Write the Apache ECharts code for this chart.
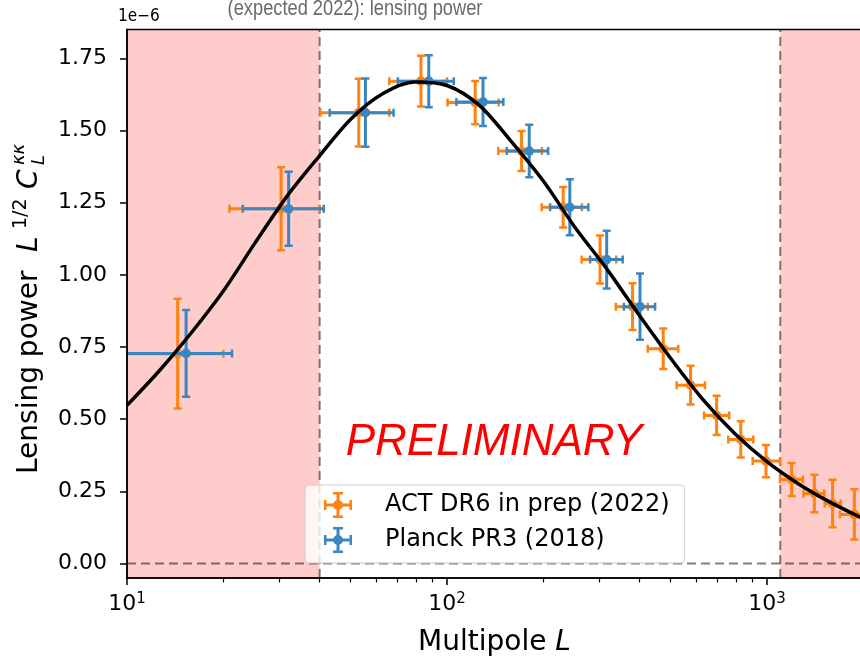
<!DOCTYPE html>
<html lang="en">
<head>
<meta charset="UTF-8">
<title>Lensing power</title>
<script src="https://cdn.jsdelivr.net/npm/echarts@6.0.0/dist/echarts.min.js"></script>
<style>html,body{margin:0;padding:0;background:#fff;}</style>
</head>
<body>
<div id="main" style="width:860px;height:656px;"></div>
<script type="text/javascript">
// bandpowers, in units of 1e-6
var actL   = [14.4, 30.3, 53.0, 82.9, 122.5, 171, 230.7, 300.8, 380, 474, 577, 696, 828, 993, 1194, 1406, 1603, 1875];
var actLo  = [8, 20.9, 40.2, 66, 100.4, 144.6, 197.7, 263.5, 337, 424, 522, 636, 757, 902, 1098, 1300, 1515, 1690];
var actHi  = [20, 40, 66, 100, 145, 198, 264, 338, 424, 528, 640, 762, 906, 1098, 1295, 1510, 1700, 2060];
var actVal = [0.727, 1.229, 1.562, 1.671, 1.597, 1.429, 1.234, 1.053, 0.89, 0.744, 0.618, 0.513, 0.43, 0.355, 0.291, 0.243, 0.208, 0.17];
var actErr = [0.19, 0.144, 0.117, 0.088, 0.075, 0.069, 0.07, 0.083, 0.081, 0.07, 0.067, 0.068, 0.063, 0.056, 0.057, 0.065, 0.082, 0.087];

var planckL   = [15.3, 32.0, 55.6, 87.7, 129.6, 180.7, 242, 315.5, 401];
var planckLo  = [8, 23, 43, 70.2, 107, 153.8, 210, 280, 357];
var planckHi  = [21.3, 41.2, 68.1, 105, 150, 207, 276.5, 354, 447];
var planckVal = [0.728, 1.229, 1.562, 1.671, 1.599, 1.429, 1.234, 1.053, 0.89];
var planckErr = [0.15, 0.128, 0.118, 0.09, 0.083, 0.091, 0.097, 0.1, 0.115];

// theory curve
var theoryL   = [10, 12.6, 15.8, 20, 25.1, 31.6, 39.8, 50.1, 63.1, 79.4, 100, 126, 158, 200, 251, 316, 398, 501, 631, 794, 1000, 1259, 1585, 1995];
var theoryVal = [0.548, 0.667, 0.796, 0.944, 1.11, 1.272, 1.41, 1.54, 1.628, 1.668, 1.656, 1.588, 1.465, 1.325, 1.165, 1.02, 0.862, 0.71, 0.568, 0.45, 0.353, 0.275, 0.211, 0.156];

var xTicks = [10, 100, 1000];
var xMinorTicks = [20, 30, 40, 50, 60, 70, 80, 90, 200, 300, 400, 500, 600, 700, 800, 900];
var yTicks = [0, 0.25, 0.5, 0.75, 1.0, 1.25, 1.5, 1.75];

var xMin = 10, xMax = 1981;
var yMin = -0.05, yMax = 1.85;
var lCutLow = 40, lCutHigh = 1100;

var ORANGE = '#ff820e';
var BLUE = '#3a86c0';
var FONT = 'DejaVu Sans';
var DASH = {color: 'rgba(0,0,0,0.5)', width: 2, type: [9, 5]};

function rows(xs, lo, hi, ys, err) {
    return xs.map(function (x, i) { return [x, ys[i], lo[i], hi[i], err[i]]; });
}

function renderErr(params, api) {
    var x = api.value(0), y = api.value(1);
    var e = api.value(4);
    var c = api.coord([x, y]);
    var l = api.coord([api.value(2), y]);
    var r = api.coord([api.value(3), y]);
    var t = api.coord([x, y + e]);
    var b = api.coord([x, y - e]);
    var color = api.visual('color');
    var bar = {stroke: color, lineWidth: 3};
    var cap = {stroke: color, lineWidth: 2.5};
    var h = 4;
    return {
        type: 'group',
        children: [
            {type: 'line', shape: {x1: l[0], y1: c[1], x2: r[0], y2: c[1]}, style: bar},
            {type: 'line', shape: {x1: c[0], y1: t[1], x2: c[0], y2: b[1]}, style: bar},
            {type: 'line', shape: {x1: l[0], y1: c[1] - h, x2: l[0], y2: c[1] + h}, style: cap},
            {type: 'line', shape: {x1: r[0], y1: c[1] - h, x2: r[0], y2: c[1] + h}, style: cap},
            {type: 'line', shape: {x1: c[0] - h, y1: t[1], x2: c[0] + h, y2: t[1]}, style: cap},
            {type: 'line', shape: {x1: c[0] - h, y1: b[1], x2: c[0] + h, y2: b[1]}, style: cap},
            {type: 'circle', shape: {cx: c[0], cy: c[1], r: 4.8}, style: {fill: color}}
        ]
    };
}

// errorbar legend icon: cross with caps and a dot, padded on the right
var errIcon = 'path://M12.5 0H15.5V26H12.5Z M0 11.5H28V14.5H0Z M9 0H19V2.5H9Z M9 23.5H19V26H9Z ' +
    'M0 8H2.5V18H0Z M25.5 8H28V18H25.5Z M19 13A5 5 0 1 1 9 13A5 5 0 1 1 19 13Z M56 26';

function guide(points, z) {
    return {
        type: 'line', data: points, z: z, silent: true, clip: true,
        showSymbol: false, symbol: 'none',
        lineStyle: DASH
    };
}

var myChart = echarts.init(document.getElementById('main'));

var option = {
    animation: false,
    grid: {
        left: 127, top: 29.5, width: 735, height: 548.5,
        outerBoundsMode: 'none', containLabel: false, z: 10,
        show: true, borderColor: '#000', borderWidth: 1.5, backgroundColor: 'transparent'
    },
    legend: {
        orient: 'vertical',
        left: 305, top: 485,
        padding: [7, 15, 10, 19],
        itemWidth: 56, itemHeight: 26, itemGap: 9,
        backgroundColor: 'rgba(255,255,255,0.8)',
        borderColor: '#cccccc', borderWidth: 1, borderRadius: 4,
        textStyle: {fontFamily: FONT, fontSize: 24, color: '#000'},
        data: [
            {name: 'ACT DR6 in prep (2022)', icon: errIcon},
            {name: 'Planck PR3 (2018)', icon: errIcon}
        ]
    },
    xAxis: [{
        type: 'log', logBase: 10, min: xMin, max: xMax,
        position: 'bottom', z: 10,
        name: 'Multipole {i|L}',
        nameLocation: 'middle', nameGap: 51,
        nameTextStyle: {
            fontFamily: FONT, fontSize: 28, color: '#000',
            rich: {i: {fontFamily: FONT, fontSize: 28, fontStyle: 'italic', color: '#000'}}
        },
        axisLine: {onZero: false, lineStyle: {color: '#000', width: 1.5}},
        axisTick: {customValues: xTicks, length: 7, lineStyle: {color: '#000', width: 1.5}},
        axisLabel: {
            customValues: xTicks, margin: 14,
            fontFamily: FONT, fontSize: 22, color: '#000',
            formatter: function (v) { return '10{s|' + Math.round(Math.log10(v)) + '}'; },
            rich: {s: {fontFamily: FONT, fontSize: 15, color: '#000', verticalAlign: 'top', padding: [0, 0, 10, 0]}}
        },
        splitLine: {show: false}
    }, {
        type: 'log', logBase: 10, min: xMin, max: xMax,
        position: 'bottom', z: 10,
        axisLine: {show: false, onZero: false},
        axisTick: {customValues: xMinorTicks, length: 4.5, lineStyle: {color: '#000', width: 1.2}},
        axisLabel: {show: false},
        splitLine: {show: false}
    }],
    yAxis: {
        type: 'value', min: yMin, max: yMax, z: 10,
        axisLine: {show: true, onZero: false, lineStyle: {color: '#000', width: 1.5}},
        axisTick: {show: true, customValues: yTicks, length: 7, lineStyle: {color: '#000', width: 1.5}},
        axisLabel: {
            customValues: yTicks, margin: 20,
            fontFamily: FONT, fontSize: 22, color: '#000',
            formatter: function (v) { return v.toFixed(2); }
        },
        splitLine: {show: false}
    },
    graphic: [
        {
            type: 'text', x: 355, y: 20, scaleX: 0.83, silent: true,
            style: {text: '(expected 2022): lensing power', fontFamily: 'Liberation Sans',
                fontSize: 22, fill: '#6a6a6a', align: 'center', verticalAlign: 'bottom'}
        },
        {
            type: 'text', x: 118, y: 17, silent: true,
            style: {text: '1e\u22126', fontFamily: 'DejaVu Sans Condensed, DejaVu Sans', fontSize: 17, fill: '#000',
                align: 'left', verticalAlign: 'middle'}
        },
        {
            type: 'text', x: 494, y: 443, silent: true, z: 20,
            style: {text: 'PRELIMINARY', fontFamily: 'Liberation Sans', fontStyle: 'italic', fontSize: 44,
                fill: '#ff0000', align: 'center', verticalAlign: 'middle'}
        },
        {
            type: 'group', x: 30, y: 474, rotation: Math.PI / 2, silent: true,
            children: [
                {type: 'text', x: 0, y: 0, style: {text: 'Lensing power', fontFamily: FONT, fontSize: 28, fill: '#000', verticalAlign: 'middle'}},
                {type: 'text', x: 222, y: 0, style: {text: 'L', fontFamily: FONT, fontStyle: 'italic', fontSize: 28, fill: '#000', verticalAlign: 'middle'}},
                {type: 'text', x: 245, y: -9, style: {text: '1/2', fontFamily: FONT, fontSize: 19, fill: '#000', verticalAlign: 'middle'}},
                {type: 'text', x: 285, y: 0, style: {text: 'C', fontFamily: FONT, fontStyle: 'italic', fontSize: 28, fill: '#000', verticalAlign: 'middle'}},
                {type: 'text', x: 309, y: -11, style: {text: '\u03ba\u03ba', fontFamily: FONT, fontStyle: 'italic', fontSize: 18, fill: '#000', verticalAlign: 'middle'}},
                {type: 'text', x: 309, y: 9, style: {text: 'L', fontFamily: FONT, fontStyle: 'italic', fontSize: 18, fill: '#000', verticalAlign: 'middle'}}
            ]
        }
    ],
    series: [
        {
            // masked multipole ranges
            type: 'line', data: [], z: 1, silent: true,
            markArea: {
                silent: true,
                itemStyle: {color: '#ffcccc', opacity: 1, borderWidth: 0},
                data: [[{xAxis: xMin}, {xAxis: lCutLow}], [{xAxis: lCutHigh}, {xAxis: xMax}]]
            }
        },
        guide([[lCutLow, yMin], [lCutLow, yMax]], 2),
        guide([[lCutHigh, yMin], [lCutHigh, yMax]], 2),
        guide([[xMin, 0], [xMax, 0]], 2),
        {
            name: 'ACT DR6 in prep (2022)', type: 'custom', z: 3, clip: true,
            itemStyle: {color: ORANGE},
            renderItem: renderErr,
            encode: {x: 0, y: 1},
            data: rows(actL, actLo, actHi, actVal, actErr)
        },
        {
            name: 'Planck PR3 (2018)', type: 'custom', z: 4, clip: true,
            itemStyle: {color: BLUE},
            renderItem: renderErr,
            encode: {x: 0, y: 1},
            data: rows(planckL, planckLo, planckHi, planckVal, planckErr)
        },
        {
            name: 'theory', type: 'line', z: 6, clip: true,
            showSymbol: false, smooth: 0.3,
            lineStyle: {color: '#000', width: 3.5},
            data: theoryL.map(function (x, i) { return [x, theoryVal[i]]; })
        }
    ]
};

myChart.setOption(option);
</script>
</body>
</html>
